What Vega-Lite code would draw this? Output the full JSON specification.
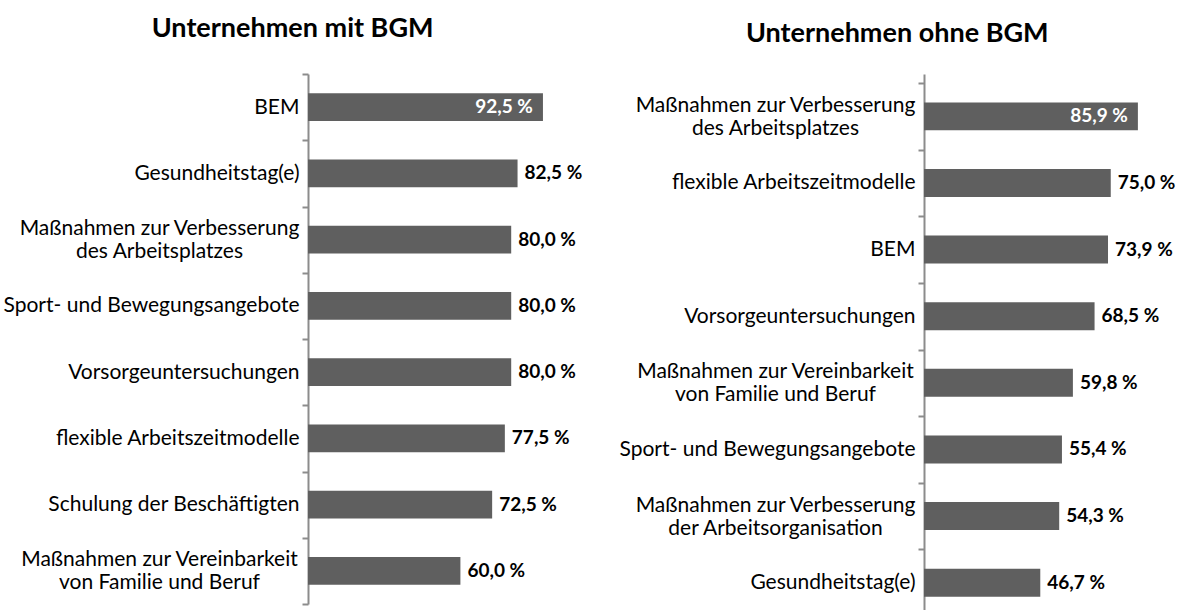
{
  "$schema": "https://vega.github.io/schema/vega-lite/v6.json",
  "background": "white",
  "padding": {"left": 3, "top": 15, "right": 0, "bottom": 0},
  "spacing": 36,
  "config": {
    "font": "Lato",
    "view": {"stroke": null},
    "title": {"fontSize": 27, "fontWeight": "bold", "color": "black", "anchor": "middle", "frame": "bounds"}
  },
  "datasets": {
    "mit": [
      {"massnahme": "BEM", "anteil": 92.5},
      {"massnahme": "Gesundheitstag(e)", "anteil": 82.5},
      {"massnahme": "Maßnahmen zur Verbesserung|des Arbeitsplatzes", "anteil": 80.0},
      {"massnahme": "Sport- und Bewegungsangebote", "anteil": 80.0},
      {"massnahme": "Vorsorgeuntersuchungen", "anteil": 80.0},
      {"massnahme": "flexible Arbeitszeitmodelle", "anteil": 77.5},
      {"massnahme": "Schulung der Beschäftigten", "anteil": 72.5},
      {"massnahme": "Maßnahmen zur Vereinbarkeit|von Familie und Beruf", "anteil": 60.0}
    ],
    "ohne": [
      {"massnahme": "Maßnahmen zur Verbesserung|des Arbeitsplatzes", "anteil": 85.9},
      {"massnahme": "flexible Arbeitszeitmodelle", "anteil": 75.0},
      {"massnahme": "BEM", "anteil": 73.9},
      {"massnahme": "Vorsorgeuntersuchungen", "anteil": 68.5},
      {"massnahme": "Maßnahmen zur Vereinbarkeit|von Familie und Beruf", "anteil": 59.8},
      {"massnahme": "Sport- und Bewegungsangebote", "anteil": 55.4},
      {"massnahme": "Maßnahmen zur Verbesserung|der Arbeitsorganisation", "anteil": 54.3},
      {"massnahme": "Gesundheitstag(e)", "anteil": 46.7}
    ]
  },
  "hconcat": [
    {
      "data": {"name": "mit"},
      "title": {"text": "Unternehmen mit BGM", "offset": 20},
      "width": 254,
      "height": 530,
      "transform": [{"calculate": "replace(format(datum.anteil, '.1f'), '.', ',') + ' %'", "as": "beschriftung"}],
      "encoding": {
        "y": {
          "field": "massnahme", "type": "nominal", "sort": null,
          "scale": {"paddingInner": 0, "paddingOuter": 0},
          "axis": {
            "title": null,
            "tickBand": "extent",
            "tickSize": 6, "tickWidth": 2, "tickColor": "#8c8c8c",
            "domainColor": "#8c8c8c", "domainWidth": 2,
            "labelFontSize": 21, "labelColor": "black", "labelLimit": 400,
            "labelLineHeight": 23,
            "labelExpr": "isValid(datum.value) ? split(datum.value, '|') : ''",
            "labelAlign": {"condition": {"test": "isValid(datum.value) && indexof(datum.value, '|') >= 0", "value": "center"}, "value": "right"},
            "labelPadding": {"expr": "isValid(datum) && isValid(datum.value) && indexof(datum.value, '|') >= 0 ? 143 : 3"},
            "labelOffset": {"expr": "isValid(datum) && isValid(datum.value) && indexof(datum.value, '|') >= 0 ? -11 : 0"}
          }
        },
        "x": {"field": "anteil", "type": "quantitative", "scale": {"domain": [0, 100]}, "axis": null}
      },
      "layer": [
        {"mark": {"type": "bar", "color": "#5f5f5f", "height": {"band": 0.42}}},
        {
          "transform": [{"filter": "datum.anteil >= 85"}],
          "mark": {"type": "text", "align": "right", "dx": -10, "color": "white", "fontWeight": "bold", "fontSize": 19},
          "encoding": {"text": {"field": "beschriftung"}}
        },
        {
          "transform": [{"filter": "datum.anteil < 85"}],
          "mark": {"type": "text", "align": "left", "dx": 7, "color": "black", "fontWeight": "bold", "fontSize": 19},
          "encoding": {"text": {"field": "beschriftung"}}
        }
      ]
    },
    {
      "data": {"name": "ohne"},
      "title": {"text": "Unternehmen ohne BGM", "offset": 15},
      "width": 249,
      "height": 542,
      "transform": [{"calculate": "replace(format(datum.anteil, '.1f'), '.', ',') + ' %'", "as": "beschriftung"}],
      "encoding": {
        "y": {
          "field": "massnahme", "type": "nominal", "sort": null,
          "scale": {"paddingInner": 0, "paddingOuter": 0.068, "align": 1},
          "axis": {
            "title": null,
            "tickBand": "extent",
            "tickSize": 6, "tickWidth": 2, "tickColor": "#8c8c8c",
            "domainColor": "#8c8c8c", "domainWidth": 2,
            "labelFontSize": 21, "labelColor": "black", "labelLimit": 400,
            "labelLineHeight": 23,
            "labelExpr": "isValid(datum.value) ? split(datum.value, '|') : ''",
            "labelAlign": {"condition": {"test": "isValid(datum.value) && indexof(datum.value, '|') >= 0", "value": "center"}, "value": "right"},
            "labelPadding": {"expr": "isValid(datum) && isValid(datum.value) && indexof(datum.value, '|') >= 0 ? 143 : 3"},
            "labelOffset": {"expr": "isValid(datum) && isValid(datum.value) && indexof(datum.value, '|') >= 0 ? -11 : 0"}
          }
        },
        "x": {"field": "anteil", "type": "quantitative", "scale": {"domain": [0, 100]}, "axis": null}
      },
      "layer": [
        {"mark": {"type": "bar", "color": "#5f5f5f", "height": {"band": 0.42}}},
        {
          "transform": [{"filter": "datum.anteil >= 85"}],
          "mark": {"type": "text", "align": "right", "dx": -10, "color": "white", "fontWeight": "bold", "fontSize": 19},
          "encoding": {"text": {"field": "beschriftung"}}
        },
        {
          "transform": [{"filter": "datum.anteil < 85"}],
          "mark": {"type": "text", "align": "left", "dx": 7, "color": "black", "fontWeight": "bold", "fontSize": 19},
          "encoding": {"text": {"field": "beschriftung"}}
        }
      ]
    }
  ]
}
